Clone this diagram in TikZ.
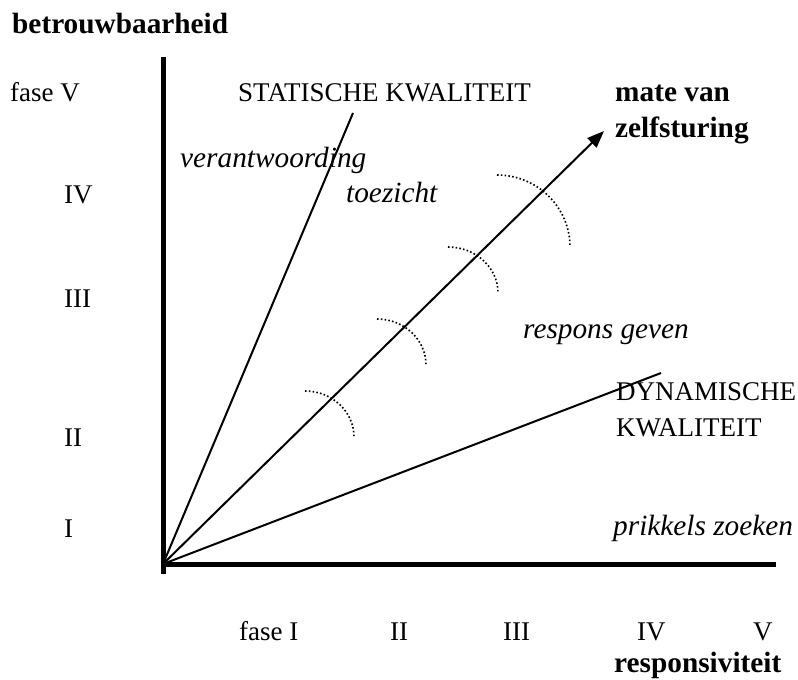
\documentclass[tikz,border=0pt]{standalone}
\usepackage{fontspec}
\setmainfont{Liberation Serif}
\usetikzlibrary{arrows.meta}
\tikzset{
  lbl/.style={anchor=base west, inner sep=0pt, font=\fontsize{27}{32}\selectfont},
  lblb/.style={lbl, font=\fontsize{29.3}{34}\selectfont\bfseries},
  lbli/.style={lbl, font=\fontsize{29.3}{34}\selectfont\itshape},
  axisline/.style={line width=5pt},
  ray/.style={line width=2pt},
  zone/.style={line width=1.6pt, dash pattern=on 1.6pt off 2.2pt},
}
\begin{document}
\begin{tikzpicture}[x=1pt,y=-1pt]
\useasboundingbox (0,0) rectangle (798,680);
% key points
\coordinate (O) at (163,564);
\coordinate (Ytop) at (163,57);
\coordinate (Ybot) at (163,574);
\coordinate (Xend) at (776,564);
\coordinate (Send) at (353,113);
\coordinate (Dend) at (661,373);
\coordinate (Aend) at (604,131);
% axes
\draw[axisline] (Ytop) -- (Ybot);
\draw[axisline] (O) -- (Xend);
% rays
\draw[ray] (O) -- (Send);
\draw[ray] (O) -- (Dend);
\draw[ray,-{Triangle[length=17pt,width=13pt]}] (O) -- (Aend);
% dotted arcs
\coordinate (a1) at (497,175);
\coordinate (a2) at (448,247);
\coordinate (a3) at (377,319);
\coordinate (a4) at (305,391);
\draw[zone] (a1) arc[start angle=-90,end angle=0,x radius=73,y radius=72];
\draw[zone] (a2) arc[start angle=-90,end angle=0,x radius=50,y radius=46];
\draw[zone] (a3) arc[start angle=-90,end angle=0,x radius=49,y radius=46];
\draw[zone] (a4) arc[start angle=-90,end angle=0,x radius=49,y radius=46];
% labels
\node[lblb] (betr) at (12,34) {betrouwbaarheid};
\node[lbl] (f5) at (10,101) {fase V};
\node[lbl] (stat) at (238,101) {STATISCHE KWALITEIT};
\node[lblb] (mate) at (615,101) {mate van};
\node[lblb] (zelf) at (615,137) {zelfsturing};
\node[lbli] (verant) at (180,167) {verantwoording};
\node[lbl] (f4) at (64,203) {IV};
\node[lbli] (toez) at (346,202) {toezicht};
\node[lbl] (f3) at (64,307) {III};
\node[lbli] (resp) at (523,338) {respons geven};
\node[lbl] (dyn) at (616,400) {DYNAMISCHE};
\node[lbl] (kwal) at (616,436) {KWALITEIT};
\node[lbl] (f2) at (64,446) {II};
\node[lbl] (f1) at (64,537) {I};
\node[lbli] (prik) at (613,535) {prikkels zoeken};
\node[lbl] (h1) at (239,640) {fase I};
\node[lbl] (h2) at (390,640) {II};
\node[lbl] (h3) at (503,640) {III};
\node[lbl] (h4) at (637,640) {IV};
\node[lbl] (h5) at (753,640) {V};
\node[lblb] (respv) at (614,672) {responsiviteit};
\end{tikzpicture}
\end{document}
